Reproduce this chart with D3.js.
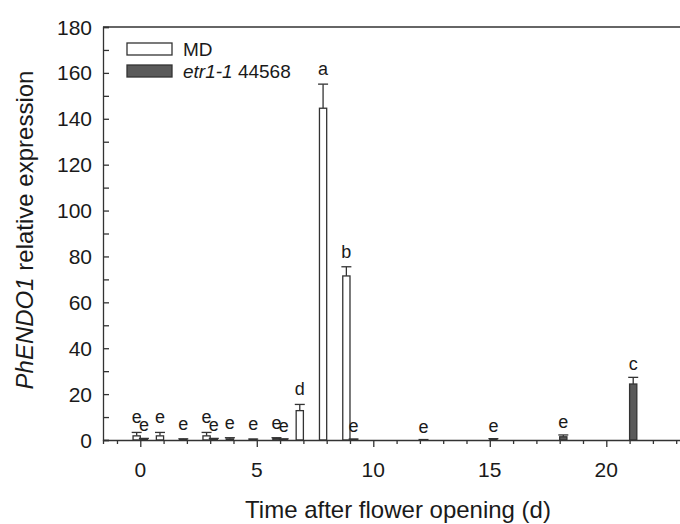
<!DOCTYPE html>
<html>
<head>
<meta charset="utf-8">
<script src="https://cdn.jsdelivr.net/npm/d3@7"></script>
<style>
  body { margin: 0; background: #fff; }
  text { font-family: Arial, "Liberation Sans", sans-serif; fill: #1a1a1a; }
</style>
</head>
<body>
<div id="chart"></div>
<script>
// MD (wild type) sampled daily, etr1-1 44568 every 3 days
var mdDays = [0, 1, 2, 3, 4, 5, 6, 7, 8, 9];
var mdMean = [1.8, 1.8, 0.3, 1.8, 0.5, 0.3, 0.6, 12.8, 144.6, 71.5];
var mdErr = [1.5, 1.5, 0.2, 1.5, 0.5, 0.1, 0.4, 2.7, 10.5, 4.0];
var mdLetters = ["e", "e", "e", "e", "e", "e", "e", "d", "a", "b"];

var etrDays = [0, 3, 6, 9, 12, 15, 18, 21];
var etrMean = [0.4, 0.4, 0.3, 0.3, 0.1, 0.3, 1.4, 24.4];
var etrErr = [0.3, 0.3, 0.2, 0.1, 0.1, 0.3, 0.8, 2.9];
var etrLetters = ["e", "e", "e", "e", "e", "e", "e", "c"];

var yTicks = [0, 20, 40, 60, 80, 100, 120, 140, 160, 180];
var xTicks = [0, 5, 10, 15, 20];

var width = 680,
    height = 524;

var x = d3.scaleLinear().domain([-1.6, 24]).range([103, 699.5]);
var y = d3.scaleLinear().domain([0, 180]).range([440, 27]);

var barW = 0.31; // in days
var ink = "#333";

var svg = d3.select("#chart").append("svg")
    .attr("width", width)
    .attr("height", height);

var series = [
    {name: "MD", fill: "#fff", off: -barW, lift: 9, days: mdDays, mean: mdMean, err: mdErr, letters: mdLetters},
    {name: "etr", fill: "#5a5a5a", off: 0, lift: 7, days: etrDays, mean: etrMean, err: etrErr, letters: etrLetters}
];

// top frame line
svg.append("line")
    .attr("x1", x(-1.6)).attr("x2", width + 20)
    .attr("y1", y(180)).attr("y2", y(180))
    .attr("stroke", ink).attr("stroke-width", 1.3);

// bars, error bars, letters
series.forEach(function (s) {
    var rows = s.days.map(function (d, i) {
        return {day: d, mean: s.mean[i], err: s.err[i], letter: s.letters[i]};
    });
    var g = svg.append("g");
    var cx = function (d) { return x(d.day + s.off + barW / 2); };

    // error bars (upper only)
    g.selectAll(".eb").data(rows).enter().append("line")
        .attr("x1", cx).attr("x2", cx)
        .attr("y1", function (d) { return y(d.mean); })
        .attr("y2", function (d) { return y(d.mean + d.err); })
        .attr("stroke", ink).attr("stroke-width", 1.3);
    g.selectAll(".cap").data(rows).enter().append("line")
        .attr("x1", function (d) { return cx(d) - 5; })
        .attr("x2", function (d) { return cx(d) + 5; })
        .attr("y1", function (d) { return y(d.mean + d.err); })
        .attr("y2", function (d) { return y(d.mean + d.err); })
        .attr("stroke", ink).attr("stroke-width", 1.3);

    g.selectAll("rect").data(rows).enter().append("rect")
        .attr("x", function (d) { return x(d.day + s.off); })
        .attr("width", x(barW) - x(0))
        .attr("y", function (d) { return y(d.mean); })
        .attr("height", function (d) { return y(0) - y(d.mean); })
        .attr("fill", s.fill)
        .attr("stroke", ink).attr("stroke-width", 1.3);

    g.selectAll("text").data(rows).enter().append("text")
        .attr("x", cx)
        .attr("y", function (d) { return y(d.mean + d.err) - s.lift; })
        .attr("text-anchor", "middle")
        .style("font-size", "18px")
        .text(function (d) { return d.letter; });
});

// y axis (ticks inside)
var yAxis = svg.append("g").attr("transform", "translate(" + x(-1.6) + ",0)");
yAxis.call(d3.axisRight(y).tickValues(d3.range(0, 181, 10)).tickSize(6).tickFormat(""));
yAxis.select(".domain").attr("stroke", ink).attr("stroke-width", 1.3);
yAxis.selectAll(".tick line").attr("stroke", ink).attr("stroke-width", 1.3);
yAxis.selectAll(".ylab").data(yTicks).enter().append("text")
    .attr("class", "ylab")
    .attr("x", -11)
    .attr("y", function (d) { return y(d); })
    .attr("dy", "0.36em")
    .attr("text-anchor", "end")
    .style("font-size", "21px")
    .text(function (d) { return d; });

// x axis (ticks outside)
var xAxis = svg.append("g").attr("transform", "translate(0," + y(0) + ")");
xAxis.call(d3.axisBottom(x).tickValues(d3.range(-1, 24, 1)).tickSize(4).tickFormat(""));
xAxis.select(".domain").attr("stroke", ink).attr("stroke-width", 1.3);
xAxis.selectAll(".tick line").attr("stroke", ink).attr("stroke-width", 1.3)
    .attr("y2", function (d) { return d % 5 === 0 ? 7 : 4; });
xAxis.selectAll(".xlab").data(xTicks).enter().append("text")
    .attr("class", "xlab")
    .attr("x", function (d) { return x(d); })
    .attr("y", 37)
    .attr("text-anchor", "middle")
    .style("font-size", "21px")
    .text(function (d) { return d; });

// axis titles
svg.append("text")
    .attr("x", 398)
    .attr("y", 518)
    .attr("text-anchor", "middle")
    .style("font-size", "24px")
    .text("Time after flower opening (d)");

var yt = svg.append("text")
    .attr("transform", "translate(33,230) rotate(-90)")
    .attr("text-anchor", "middle")
    .style("font-size", "24px");
yt.append("tspan").style("font-style", "italic").text("PhENDO1");
yt.append("tspan").text(" relative expression");

// legend
var legend = svg.append("g").attr("transform", "translate(127,43)");
legend.append("rect").attr("x", 0).attr("y", 0).attr("width", 45).attr("height", 12)
    .attr("fill", "#fff").attr("stroke", ink).attr("stroke-width", 1.3);
legend.append("rect").attr("x", 0).attr("y", 22).attr("width", 45).attr("height", 12)
    .attr("fill", "#5a5a5a").attr("stroke", ink).attr("stroke-width", 1.3);
legend.append("text").attr("x", 56).attr("y", 6).attr("dy", "0.36em")
    .style("font-size", "19px").text("MD");
var lt = legend.append("text").attr("x", 56).attr("y", 28).attr("dy", "0.36em")
    .style("font-size", "19px");
lt.append("tspan").style("font-style", "italic").text("etr1-1");
lt.append("tspan").text(" 44568");
</script>
</body>
</html>
